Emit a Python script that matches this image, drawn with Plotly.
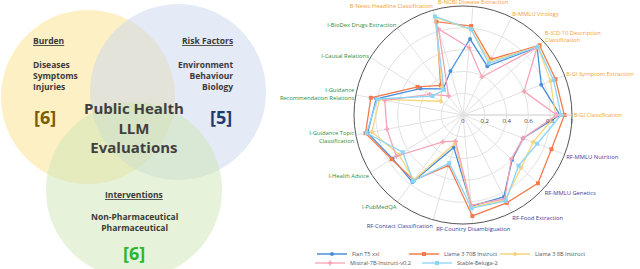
import plotly.graph_objects as go

# ---------------- data ----------------
categories = [
    "B-GI Classification", "B-GI Symptom Extraction", "B-ICD-10 Description<br>Classification",
    "B-MMLU Virology", "B-NCBI Disease Extraction", "B-News Headline Classification",
    "I-BioDex Drugs Extraction", "I-Causal Relations", "I-Guidance<br>Recommendation Relations",
    "I-Guidance Topic<br>Classification", "I-Health Advice", "I-PubMedQA",
    "RF-Contact Classification", "RF-Country Disambiguation", "RF-Food Extraction",
    "RF-MMLU Genetics", "RF-MMLU Nutrition",
]
groups = ["B"] * 6 + ["I"] * 6 + ["RF"] * 5

flan_t5_xxl = [0.89, 0.77, 0.92, 0.50, 0.70, 0.42, 0.30, 0.46, 0.81, 0.89, 0.76, 0.77, 0.31, 0.84, 0.84, 0.61, 0.59]
llama3_70b = [0.93, 0.91, 0.95, 0.57, 0.82, 0.89, 0.34, 0.49, 0.86, 0.91, 0.77, 0.75, 0.48, 0.93, 0.90, 0.93, 0.87]
llama3_8b = [0.85, 0.86, 0.93, 0.55, 0.79, 0.93, 0.32, 0.24, 0.78, 0.85, 0.69, 0.75, 0.27, 0.85, 0.87, 0.72, 0.69]
mistral_7b = [0.86, 0.60, 0.92, 0.39, 0.62, 0.82, 0.22, 0.36, 0.73, 0.71, 0.72, 0.31, 0.25, 0.83, 0.86, 0.60, 0.59]
stable_beluga = [0.90, 0.89, 0.93, 0.53, 0.79, 0.94, 0.29, 0.33, 0.80, 0.90, 0.65, 0.76, 0.46, 0.86, 0.88, 0.69, 0.73]

series_names = ["Flan T5 xxl", "Llama 3 70B Instruct", "Llama 3 8B Instruct",
                "Mistral-7B-Instruct-v0.2", "Stable-Beluga-2"]
series_values = [flan_t5_xxl, llama3_70b, llama3_8b, mistral_7b, stable_beluga]

radial_ticks = [0, 0.2, 0.4, 0.6, 0.8, 1]
radial_ticklabels = ["0", "0.2", "0.4", "0.6", "0.8", "1"]

# ---------------- styles ----------------
W, H = 640, 269
series_colors = ["#4A8FDB", "#F27B4E", "#F4D67C", "#F8A3B5", "#8CD5F8"]
series_symbols = ["circle", "square", "diamond", "cross", "square"]
legend_ids = ["legend", "legend2", "legend3", "legend4", "legend5"]
legend_text_x = [352, 444, 535, 350, 457]   # px where legend text starts
legend_row_y = [254, 254, 254, 263, 263]    # px from top
group_colors = {"B": "#F5A034", "I": "#2E8B3A", "RF": "#3A3AA0"}

def colored(label, grp):
    c = group_colors[grp]
    return "<br>".join(f'<span style="color:{c}">{p}</span>' for p in label.split("<br>"))

ticktext = [colored(c, g) for c, g in zip(categories, groups)]

fig = go.Figure()
for name, vals, col, sym, lg in zip(series_names, series_values, series_colors,
                                    series_symbols, legend_ids):
    fig.add_trace(go.Scatterpolar(
        r=vals + vals[:1], theta=categories + categories[:1],
        mode="lines+markers", name=name, legend=lg, showlegend=True,
        line=dict(color=col, width=1.3),
        marker=dict(color=col, size=4, symbol=sym),
    ))

legends = {}
for lg, tx, ty in zip(legend_ids, legend_text_x, legend_row_y):
    legends[lg] = dict(orientation="h", x=(tx - 40) / W, y=(H - ty) / H,
                       xanchor="left", yanchor="middle", visible=True,
                       font=dict(size=5.6, color="#555"), itemwidth=30,
                       bgcolor="rgba(0,0,0,0)", borderwidth=0)

fig.update_layout(
    width=W, height=H, margin=dict(l=0, r=0, t=0, b=0, pad=0, autoexpand=False),
    paper_bgcolor="white", plot_bgcolor="white", showlegend=True,
    font=dict(family="Open Sans", color="#444"),
    polar=dict(
        domain=dict(x=[354 / W, 572 / W], y=[45 / H, 263 / H]),
        bgcolor="white",
        angularaxis=dict(
            direction="counterclockwise", rotation=0,
            tickmode="array", tickvals=categories, ticktext=ticktext,
            tickfont=dict(size=5.8), ticks="",
            linecolor="#555", linewidth=1, gridcolor="#E2E2E2",
            categoryorder="array", categoryarray=categories,
        ),
        radialaxis=dict(
            range=[0, 1], angle=0, tickangle=0, tickmode="array",
            tickvals=radial_ticks, ticktext=radial_ticklabels,
            tickfont=dict(size=6, color="#444"), ticks="",
            showline=True, linecolor="#D8D8D8", gridcolor="#E2E2E2",
        ),
    ),
    xaxis=dict(domain=[0, 300 / W], range=[0, 300], visible=False, fixedrange=True),
    yaxis=dict(domain=[0, 1], range=[H, 0], visible=False, fixedrange=True),
    **legends,
)

# ---------------- Venn diagram ----------------
venn_circles = [  # (cx, cy, r, color)
    (88, 97, 87, "#FBE189"),
    (178, 92, 88, "#C9D5ED"),
    (134, 190, 88, "#CDE5B3"),
]
for cx, cy, r, col in venn_circles:
    fig.add_shape(type="circle", xref="x", yref="y", x0=cx - r, x1=cx + r,
                  y0=cy - r, y1=cy + r, fillcolor=col, opacity=0.5,
                  line=dict(width=0), layer="below")

txt = "#3A3A3A"
venn_texts = [  # (x, y, text, size, color, xanchor)
    (31, 40, "<b><u>Burden</u></b>", 8.5, txt, "left"),
    (31, 75, "<b>Diseases<br>Symptoms<br>Injuries</b>", 8.5, txt, "left"),
    (32, 117, "<b>[6]</b>", 18, "#7A5C00", "left"),
    (235, 40, "<b><u>Risk Factors</u></b>", 8.5, txt, "right"),
    (235, 75, "<b>Environment<br>Behaviour<br>Biology</b>", 8.5, txt, "right"),
    (234, 117, "<b>[5]</b>", 18, "#1F3A6E", "right"),
    (134, 127, "<b>Public Health<br>LLM<br>Evaluations</b>", 15, "#404040", "center"),
    (134, 194, "<b><u>Interventions</u></b>", 8.5, txt, "center"),
    (134, 222, "<b>Non-Pharmaceutical<br>Pharmaceutical</b>", 8.5, txt, "center"),
    (134, 253, "<b>[6]</b>", 18, "#2DB52D", "center"),
]
for x, y, t, s, c, xa in venn_texts:
    fig.add_annotation(x=x, y=y, xref="x", yref="y", text=t, showarrow=False,
                       font=dict(size=s, color=c, family="Open Sans"),
                       xanchor=xa, yanchor="middle", align=xa)

fig.write_html("out.html", config=dict(displayModeBar=False, staticPlot=True),
               post_script="document.body.style.margin='0';document.body.style.overflow='hidden';")
